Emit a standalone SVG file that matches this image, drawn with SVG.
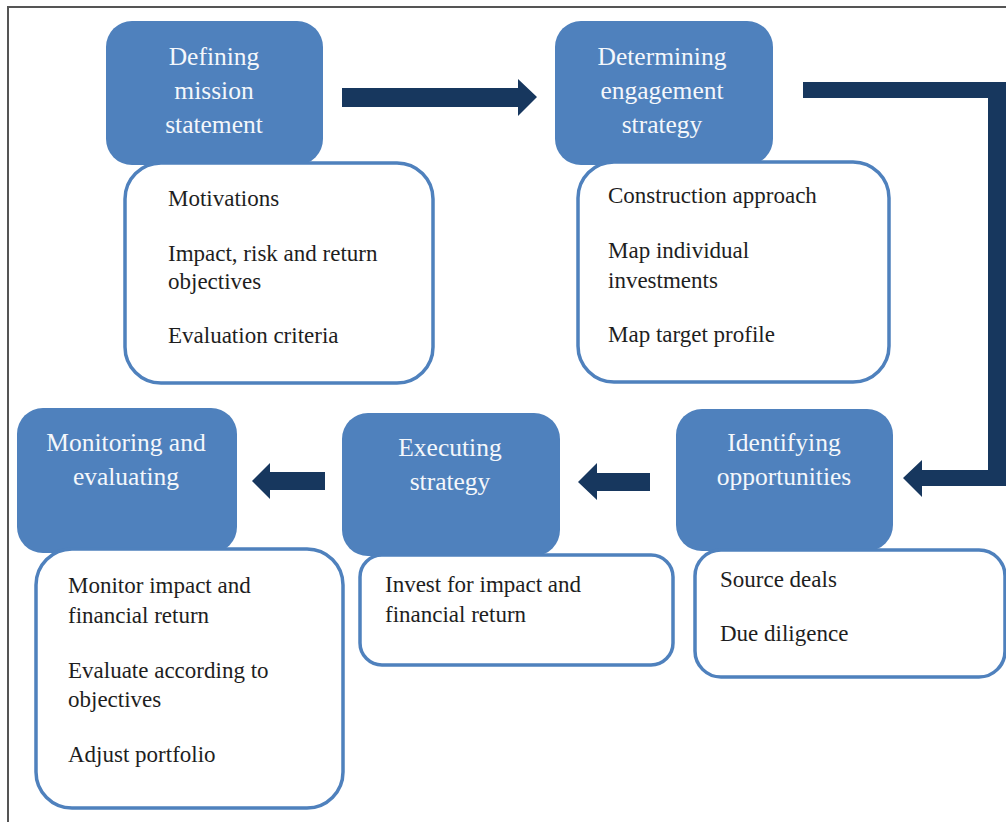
<svg xmlns="http://www.w3.org/2000/svg" width="1006" height="822" viewBox="0 0 1006 822">
<style>
.stage{fill:#4F81BD;}
.box{fill:#fff;stroke:#4F81BD;stroke-width:3.5;}
.h{font-family:"Liberation Serif","Times New Roman",serif;font-size:25.5px;fill:#F4F7FB;text-anchor:middle;}
.t{font-family:"Liberation Serif","Times New Roman",serif;font-size:23px;fill:#1E1E1E;}
.arrow{fill:#17375E;}
</style>
<rect width="1006" height="822" fill="#fff"/>
<path d="M8,822 V7 H1006" fill="none" stroke="#555" stroke-width="2"/>

<g id="connectors">
<polygon class="arrow" points="342,88 518,88 518,79 537,97 518,116 518,107 342,107"/>
<polygon class="arrow" points="803,82 1006,82 1006,486 922,486 922,497 903,478 922,460 922,470 988,470 988,98 803,98"/>
<polygon class="arrow" points="650,473 597,473 597,463 578,482 597,500 597,491 650,491"/>
<polygon class="arrow" points="325,472 270,472 270,463 252,481 270,499 270,490 325,490"/>
</g>

<g id="node-defining">
<rect class="stage" x="106" y="21" width="217" height="144" rx="26"/>
<rect class="box" x="125" y="163" width="308" height="220" rx="36"/>
<text class="h" x="214" y="65">Defining</text>
<text class="h" x="214" y="99">mission</text>
<text class="h" x="214" y="133">statement</text>
<text class="t" x="168" y="206">Motivations</text>
<text class="t" x="168" y="261">Impact, risk and return</text>
<text class="t" x="168" y="289">objectives</text>
<text class="t" x="168" y="343">Evaluation criteria</text>
</g>

<g id="node-determining">
<rect class="stage" x="555" y="21" width="218" height="144" rx="26"/>
<rect class="box" x="578" y="162" width="311" height="220" rx="36"/>
<text class="h" x="662" y="65">Determining</text>
<text class="h" x="662" y="99">engagement</text>
<text class="h" x="662" y="133">strategy</text>
<text class="t" x="608" y="203">Construction approach</text>
<text class="t" x="608" y="258">Map individual</text>
<text class="t" x="608" y="288">investments</text>
<text class="t" x="608" y="342">Map target profile</text>
</g>

<g id="node-identifying">
<rect class="stage" x="676" y="409" width="217" height="142" rx="26"/>
<rect class="box" x="695" y="550" width="310" height="127" rx="26"/>
<text class="h" x="784" y="451">Identifying</text>
<text class="h" x="784" y="485">opportunities</text>
<text class="t" x="720" y="587">Source deals</text>
<text class="t" x="720" y="641">Due diligence</text>
</g>

<g id="node-executing">
<rect class="stage" x="342" y="413" width="218" height="143" rx="26"/>
<rect class="box" x="360" y="555" width="313" height="110" rx="22"/>
<text class="h" x="450" y="456">Executing</text>
<text class="h" x="450" y="490">strategy</text>
<text class="t" x="385" y="592">Invest for impact and</text>
<text class="t" x="385" y="622">financial return</text>
</g>

<g id="node-monitoring">
<rect class="stage" x="17" y="408" width="220" height="145" rx="26"/>
<rect class="box" x="36" y="549" width="307" height="259" rx="36"/>
<text class="h" x="126" y="451">Monitoring and</text>
<text class="h" x="126" y="485">evaluating</text>
<text class="t" x="68" y="593">Monitor impact and</text>
<text class="t" x="68" y="623">financial return</text>
<text class="t" x="68" y="678">Evaluate according to</text>
<text class="t" x="68" y="707">objectives</text>
<text class="t" x="68" y="762">Adjust portfolio</text>
</g>
</svg>
